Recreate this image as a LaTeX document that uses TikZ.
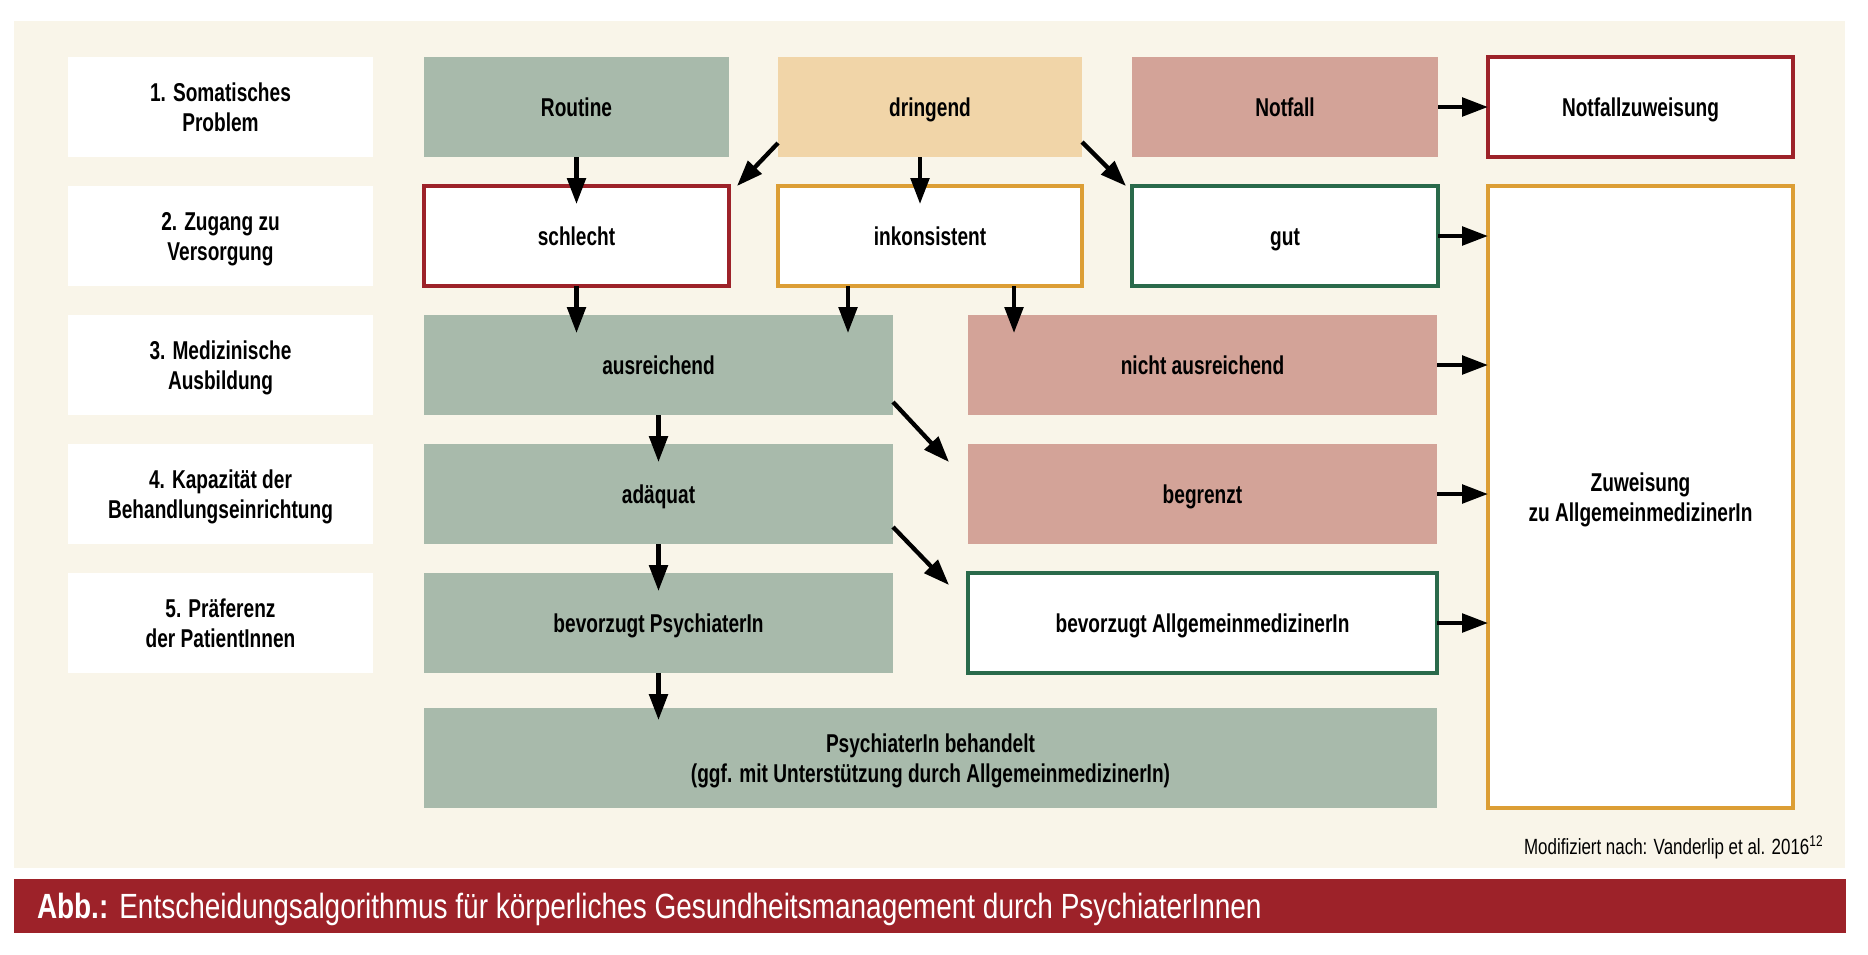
\documentclass[tikz,border=0pt]{standalone}
\usepackage{fontspec}
\setmainfont{Liberation Sans}
\newfontfamily\cond[FakeStretch=0.74]{Liberation Sans}
\newfontfamily\capfont[FakeStretch=0.80]{Liberation Sans}
\newfontfamily\srcfont[FakeStretch=0.77]{Liberation Sans}
\usetikzlibrary{arrows.meta,calc}
\definecolor{cream}{HTML}{F9F5E9}
\definecolor{sage}{HTML}{A8BAAB}
\definecolor{sand}{HTML}{F1D5A8}
\definecolor{rose}{HTML}{D3A398}
\definecolor{darkred}{HTML}{9D2229}
\definecolor{ochre}{HTML}{DC9E35}
\definecolor{pine}{HTML}{2A6A4B}
\newcommand\bx[7]{\node[#6, minimum width={(#4-#2)*0.5pt}, minimum height={(#5-#3)*0.5pt}] (#1) at ({(#2+#4)/2},{(#3+#5)/2}) {#7};}
\tikzset{
  base/.style={inner sep=0pt, outer sep=0pt, align=center, text depth=0pt, font=\cond\bfseries\fontsize{12.9}{15}\selectfont},
  one/.style={base, text height=9.2pt, text depth=0pt},
  lab/.style={base, fill=white},
  sagebox/.style={one, fill=sage},
  sandbox/.style={one, fill=sand},
  rosebox/.style={one, fill=rose},
  redframe/.style={one, fill=white, draw=darkred, line width=2pt},
  ochreframe/.style={one, fill=white, draw=ochre, line width=2pt},
  pineframe/.style={one, fill=white, draw=pine, line width=2pt},
  arr/.style={line width=2.15pt, -{Triangle[length=13pt,width=9.2pt]}},
}
\begin{document}
\begin{tikzpicture}[x=0.5pt,y=-0.5pt]
\useasboundingbox (0,0) rectangle (1868,954);
\fill[white] (0,0) rectangle (1868,954);
\bx{bg}{14}{21}{1845}{868}{inner sep=0pt, fill=cream}{}
% labels
\bx{l1}{68}{57}{373}{157}{lab}{1. Somatisches\\Problem}
\bx{l2}{68}{186}{373}{286}{lab}{2. Zugang zu\\Versorgung}
\bx{l3}{68}{315}{373}{415}{lab}{3. Medizinische\\Ausbildung}
\bx{l4}{68}{444}{373}{544}{lab}{4. Kapazität der\\Behandlungseinrichtung}
\bx{l5}{68}{573}{373}{673}{lab}{5. Präferenz\\der PatientInnen}
% row 1
\bx{routine}{424}{57}{729}{157}{sagebox}{Routine}
\bx{dringend}{778}{57}{1082}{157}{sandbox}{dringend}
\bx{notfall}{1132}{57}{1438}{157}{rosebox}{Notfall}
\bx{nfz}{1488}{57}{1793}{157}{redframe}{Notfallzuweisung}
% row 2
\bx{schlecht}{424}{186}{729}{286}{redframe}{schlecht}
\bx{inkons}{778}{186}{1082}{286}{ochreframe}{inkonsistent}
\bx{gut}{1132}{186}{1438}{286}{pineframe}{gut}
\bx{zuw}{1488}{186}{1793}{808}{base, fill=white, draw=ochre, line width=2pt}{Zuweisung\\zu AllgemeinmedizinerIn}
% rows 3-5
\bx{ausr}{424}{315}{893}{415}{sagebox}{ausreichend}
\bx{nausr}{968}{315}{1437}{415}{rosebox}{nicht ausreichend}
\bx{adaq}{424}{444}{893}{544}{sagebox}{adäquat}
\bx{begr}{968}{444}{1437}{544}{rosebox}{begrenzt}
\bx{bevP}{424}{573}{893}{673}{sagebox}{bevorzugt PsychiaterIn}
\bx{bevA}{968}{573}{1437}{673}{pineframe}{bevorzugt AllgemeinmedizinerIn}
% row 6
\bx{behandelt}{424}{708}{1437}{808}{base, fill=sage}{PsychiaterIn behandelt\\(ggf. mit Unterstützung durch AllgemeinmedizinerIn)}
% vertical arrows
\draw[arr] (routine.south) -- ($(schlecht.north)+(0,18)$);
\draw[arr] ($(dringend.south)+(-10,0)$) -- ($(inkons.north)+(-10,18)$);
\draw[arr] (schlecht.south) -- ($(schlecht.south |- ausr.north)+(0,18)$);
\draw[arr] ($(inkons.south west)+(70,0)$) -- ($(inkons.south west |- ausr.north)+(70,18)$);
\draw[arr] ($(inkons.south west)+(236,0)$) -- ($(inkons.south west |- nausr.north)+(236,18)$);
\draw[arr] (ausr.south) -- ($(adaq.north)+(0,18)$);
\draw[arr] (adaq.south) -- ($(bevP.north)+(0,18)$);
\draw[arr] (bevP.south) -- ($(bevP.south |- behandelt.north)+(0,12)$);
% diagonal arrows
\draw[arr] ($(dringend.south west)+(0,-14)$) -- ($(schlecht.north east)+(8,0)$);
\draw[arr] ($(dringend.south east)+(0,-15)$) -- ($(gut.north west)+(-6,0)$);
\draw[arr] ($(ausr.south east)+(0,-13)$) -- ($(begr.north west)+(-19,18)$);
\draw[arr] ($(adaq.south east)+(0,-17)$) -- ($(bevA.north west)+(-19,12)$);
% horizontal arrows
\draw[arr] (notfall.east) -- (notfall.east -| nfz.west);
\draw[arr] (gut.east) -- (gut.east -| zuw.west);
\draw[arr] (nausr.east) -- (nausr.east -| zuw.west);
\draw[arr] (begr.east) -- (begr.east -| zuw.west);
\draw[arr] (bevA.east) -- (bevA.east -| zuw.west);
% source
\node[inner sep=0pt, anchor=east, font=\srcfont\fontsize{11}{12}\selectfont] (src) at (1824,847) {Modifiziert nach: Vanderlip et al. 2016\textsuperscript{12}};
% caption bar
\bx{bar}{14}{879}{1846}{933}{inner sep=0pt, fill=darkred}{}
\node[inner sep=0pt, anchor=west, text=white, font=\capfont\fontsize{17.5}{20}\selectfont] (cap) at (37,909) {\textbf{Abb.:} Entscheidungsalgorithmus für körperliches Gesundheitsmanagement durch PsychiaterInnen};
\end{tikzpicture}
\end{document}
